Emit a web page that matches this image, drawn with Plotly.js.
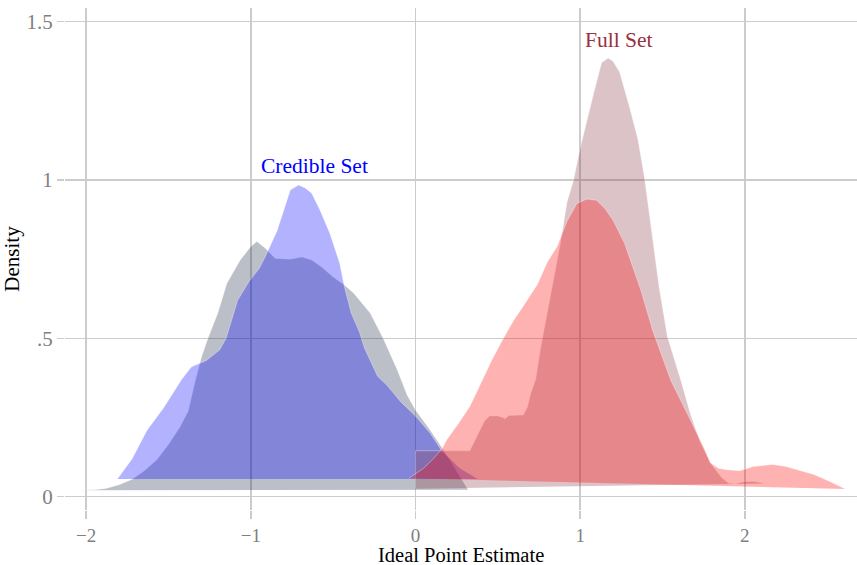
<!DOCTYPE html>
<html>
<head>
<meta charset="utf-8">
<script src="https://cdn.plot.ly/plotly-3.0.1.min.js"></script>
<style>html,body{margin:0;padding:0;background:#fff;}</style>
</head>
<body>
<div id="chart" style="width:857px;height:565px;"></div>
<script>
// Full Set, left group (gray)
const fullLeftX = [-2.05,-1.95,-1.88,-1.8,-1.72,-1.65,-1.57,-1.5,-1.43,-1.38,-1.34,-1.3,-1.26,-1.2,-1.145,-1.064,-1.0,-0.963,-0.913,-0.852,-0.76,-0.69,-0.63,-0.57,-0.5,-0.43,-0.376,-0.275,-0.196,-0.11,-0.05,0,0.09,0.18,0.25,0.32];
const fullLeftY = [0.02,0.022,0.026,0.038,0.055,0.08,0.117,0.165,0.22,0.27,0.36,0.44,0.5,0.58,0.674,0.747,0.79,0.806,0.785,0.752,0.75,0.757,0.747,0.725,0.694,0.668,0.643,0.58,0.5,0.4,0.32,0.274,0.21,0.14,0.08,0.022];
// Credible Set, left group (blue)
const credLeftX = [-1.81,-1.72,-1.63,-1.53,-1.42,-1.36,-1.27,-1.19,-1.15,-1.08,-1.01,-0.95,-0.913,-0.84,-0.76,-0.71,-0.67,-0.63,-0.58,-0.52,-0.46,-0.43,-0.39,-0.34,-0.31,-0.23,-0.17,-0.09,0,0.09,0.16,0.27,0.38];
const credLeftY = [0.056,0.12,0.21,0.28,0.37,0.41,0.43,0.463,0.5,0.62,0.68,0.72,0.757,0.84,0.968,0.984,0.975,0.958,0.905,0.832,0.737,0.66,0.58,0.52,0.47,0.38,0.35,0.30,0.255,0.2,0.145,0.09,0.056];
// Full Set, right group (rose)
const fullRightX = [0,0,0.33,0.36,0.39,0.42,0.45,0.5,0.53,0.545,0.565,0.655,0.68,0.70,0.73,0.76,0.80,0.84,0.88,0.92,0.96,1.0,1.04,1.08,1.13,1.17,1.2,1.24,1.30,1.35,1.39,1.43,1.48,1.53,1.61,1.67,1.73,1.8,1.86,1.9,1.94,2.0,2.06,2.12];
const fullRightY = [0.025,0.145,0.145,0.175,0.21,0.24,0.255,0.255,0.25,0.246,0.256,0.258,0.283,0.326,0.37,0.47,0.58,0.684,0.80,0.93,1.0,1.1,1.19,1.27,1.37,1.385,1.375,1.34,1.23,1.13,1.01,0.85,0.66,0.505,0.37,0.26,0.17,0.1,0.06,0.043,0.04,0.048,0.048,0.042];
// Credible Set, right group (salmon)
const credRightX = [-0.04,0.05,0.1,0.16,0.19,0.26,0.33,0.40,0.464,0.534,0.6,0.64,0.70,0.74,0.80,0.86,0.92,0.98,1.04,1.10,1.15,1.2,1.27,1.32,1.37,1.44,1.55,1.65,1.75,1.79,1.84,1.89,1.97,2.05,2.17,2.25,2.33,2.42,2.52,2.61];
const credRightY = [0.058,0.09,0.115,0.15,0.18,0.23,0.285,0.36,0.432,0.5,0.56,0.59,0.64,0.67,0.74,0.79,0.87,0.926,0.94,0.936,0.91,0.873,0.80,0.725,0.65,0.526,0.368,0.263,0.157,0.107,0.09,0.085,0.082,0.095,0.102,0.095,0.083,0.07,0.047,0.024];

const yTickVals = [0, 0.5, 1, 1.5];
const yTickText = ['0', '.5', '1', '1.5'];
const xTickVals = [-2, -1, 0, 1, 2];
const xTickText = ['\u22122', '\u22121', '0', '1', '2'];

const edge = {color: 'rgba(255,255,255,0.35)', width: 1};
function area(x, y, fc) {
  return {x: x, y: y, type: 'scatter', mode: 'lines', fill: 'toself',
          fillcolor: fc, line: edge, hoverinfo: 'skip', showlegend: false};
}
const data = [
  area(fullLeftX, fullLeftY, 'rgba(30,42,70,0.3)'),
  area(credLeftX, credLeftY, 'rgba(0,0,255,0.3)'),
  area(fullRightX, fullRightY, 'rgba(140,55,70,0.3)'),
  area(credRightX, credRightY, 'rgba(255,0,0,0.3)')
];

const serif = '"Liberation Serif", "Times New Roman", Times, serif';
const layout = {
  width: 857, height: 565,
  margin: {l: 65, r: 0, t: 8, b: 55},
  paper_bgcolor: '#ffffff', plot_bgcolor: '#ffffff',
  showlegend: false,
  font: {family: serif, size: 21, color: '#000'},
  xaxis: {
    range: [-2.128, 2.681], tickvals: xTickVals, ticktext: xTickText,
    showgrid: true, gridcolor: '#cccccc', gridwidth: 1.5, zeroline: false,
    ticks: 'outside', ticklen: 8, tickcolor: '#cccccc', tickwidth: 1.5,
    showline: false,
    tickfont: {family: serif, size: 19, color: '#808080'}
  },
  yaxis: {
    range: [-0.042, 1.543], tickvals: yTickVals, ticktext: yTickText,
    showgrid: true, gridcolor: '#cccccc', gridwidth: 1.5, zeroline: false,
    ticks: 'outside', ticklen: 7, tickcolor: '#cccccc', tickwidth: 1.5,
    showline: false,
    tickfont: {family: serif, size: 21, color: '#808080'},
    title: {text: 'Density', font: {family: serif, size: 21, color: '#000'}, standoff: 12}
  },
  annotations: [
    {x: -0.95, y: 1.044, xref: 'x', yref: 'y', text: 'Credible Set', showarrow: false,
     xanchor: 'left', yanchor: 'middle', font: {family: serif, size: 21.5, color: '#0000ff'}},
    {x: 1.018, y: 1.442, xref: 'x', yref: 'y', text: 'Full Set', showarrow: false,
     xanchor: 'left', yanchor: 'middle', font: {family: serif, size: 21.5, color: '#98303f'}},
    {x: 0.5, y: -0.1135, xref: 'paper', yref: 'paper', text: 'Ideal Point Estimate', showarrow: false,
     xanchor: 'center', yanchor: 'bottom', borderpad: 0, font: {family: serif, size: 20.5, color: '#000'}}
  ]
};
Plotly.newPlot('chart', data, layout, {displayModeBar: false, staticPlot: true});
</script>
</body>
</html>
